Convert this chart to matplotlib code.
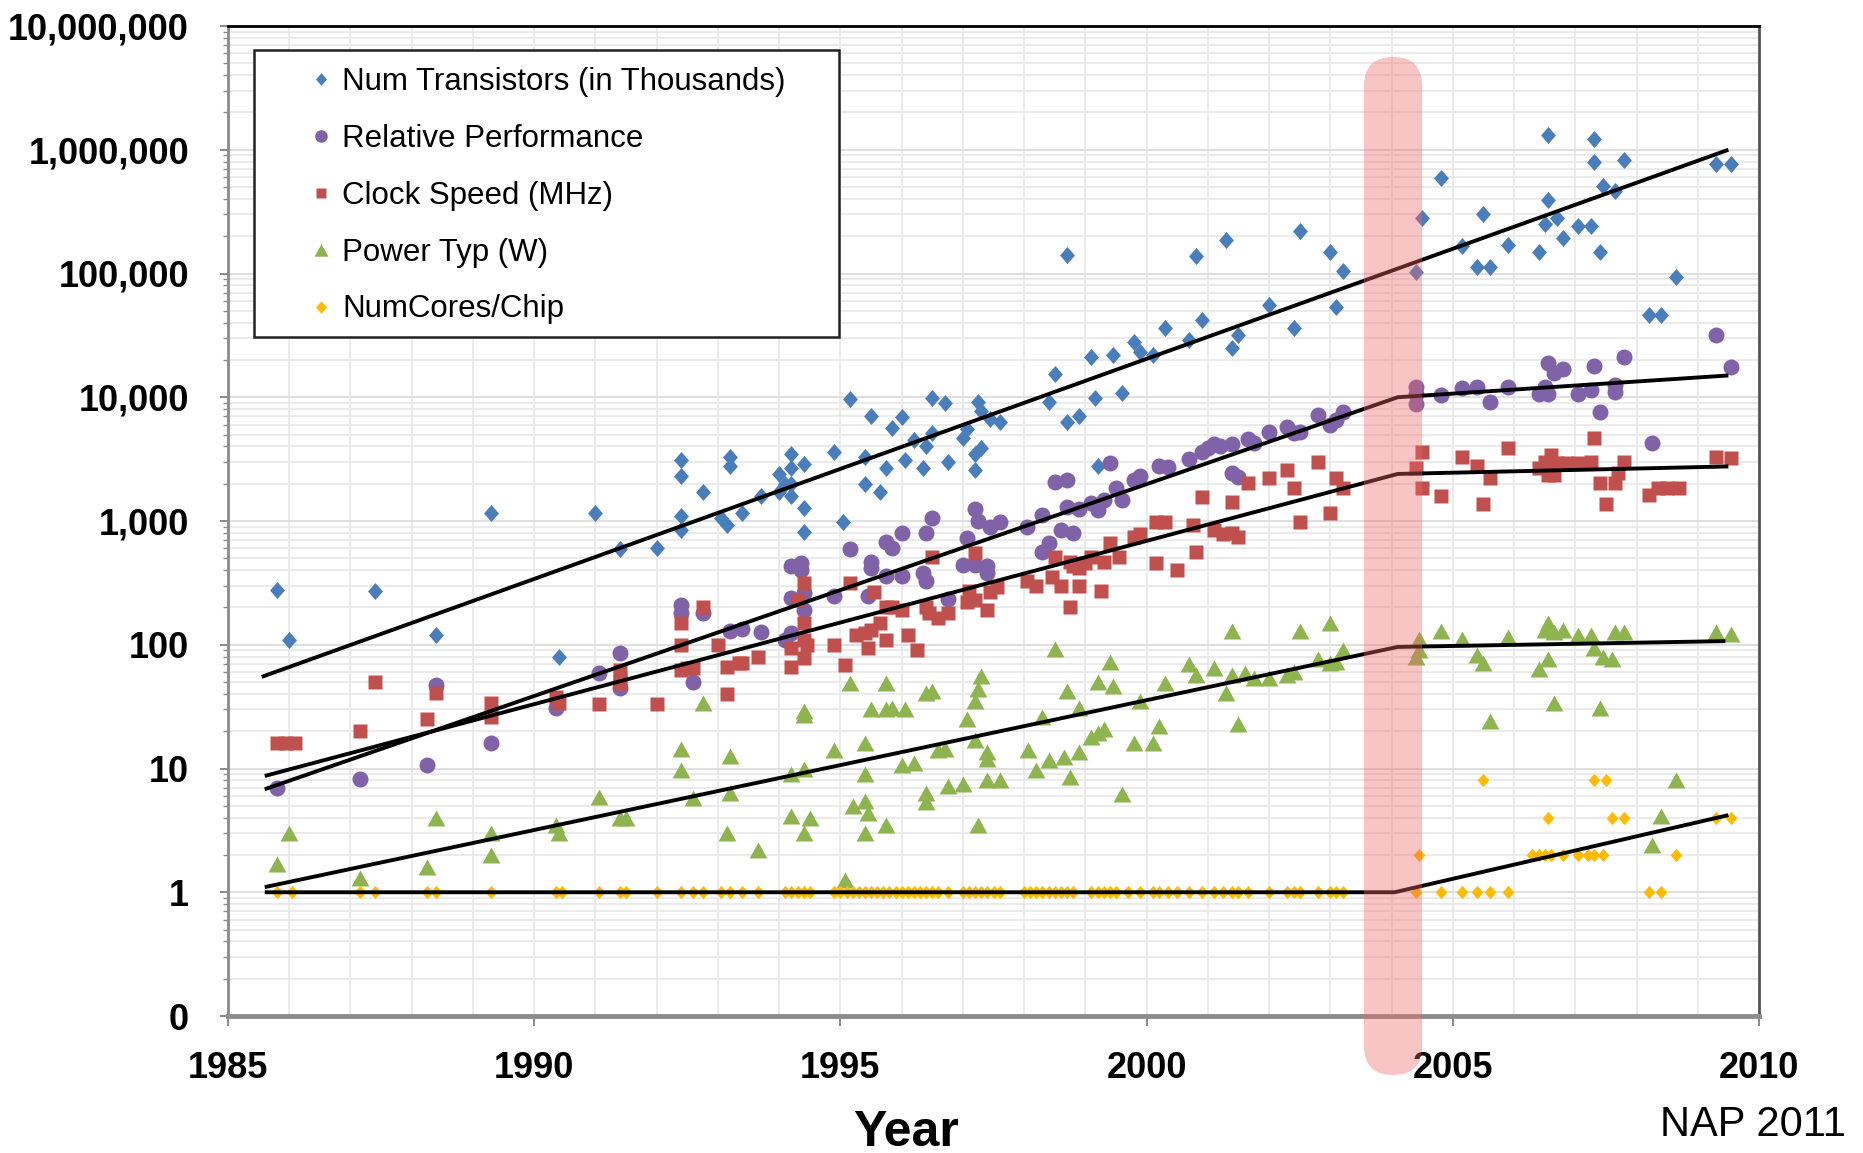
import numpy as np
import matplotlib
matplotlib.use("Agg")
import matplotlib.pyplot as plt
from matplotlib.patches import FancyBboxPatch, Rectangle
from matplotlib.path import Path
from matplotlib.ticker import FixedLocator, LogLocator, NullFormatter, MultipleLocator

plt.rcParams["font.family"] = ["Liberation Sans", "DejaVu Sans"]

# ---- data: (year, value) ----
transistors = [
    (1985.8, 275), (1986.0, 110), (1987.4, 270), (1988.4, 120), (1989.3, 1170),
    (1990.4, 80), (1991.0, 1170), (1991.4, 590), (1992.0, 600),
    (1992.4, 3100), (1992.4, 2300), (1992.4, 1100), (1992.4, 850), (1992.75, 1700),
    (1993.05, 1050), (1993.15, 930), (1993.2, 3300), (1993.2, 2800), (1993.4, 1170),
    (1993.7, 1600), (1994.0, 2400), (1994.0, 1700), (1994.1, 2000),
    (1994.2, 3500), (1994.2, 2700), (1994.2, 2000), (1994.2, 1600),
    (1994.4, 2900), (1994.4, 1270), (1994.4, 820), (1994.9, 3600), (1995.05, 990),
    (1995.15, 9700), (1995.4, 3300), (1995.4, 2000), (1995.5, 7000), (1995.65, 1700),
    (1995.75, 2700), (1995.85, 5600), (1996.0, 6900), (1996.05, 3100), (1996.2, 4500),
    (1996.35, 2700), (1996.4, 4000), (1996.5, 5100), (1996.5, 9800), (1996.7, 9000),
    (1996.75, 3000), (1997.0, 4700), (1997.07, 5500), (1997.2, 3500), (1997.2, 2600),
    (1997.25, 9100), (1997.3, 7800), (1997.3, 3900), (1997.45, 6700), (1997.6, 6300),
    (1998.4, 9100), (1998.5, 15500), (1998.7, 140000), (1998.7, 6300), (1998.9, 7000),
    (1999.1, 21000), (1999.15, 9800), (1999.2, 2800), (1999.45, 22000), (1999.6, 10800),
    (1999.8, 28000), (1999.9, 23000), (2000.1, 22000), (2000.3, 36000), (2000.7, 29000),
    (2000.8, 138000), (2000.9, 42000), (2001.3, 187000), (2001.4, 25000), (2001.5, 32000),
    (2002.0, 55600), (2002.4, 36000), (2002.5, 220000), (2003.0, 150000), (2003.1, 54000),
    (2003.2, 105000), (2004.4, 103000), (2004.5, 280000), (2004.8, 590000),
    (2005.15, 166000), (2005.4, 113000), (2005.5, 300000), (2005.6, 113000),
    (2005.9, 170000), (2006.4, 150000), (2006.55, 1320000), (2006.55, 390000),
    (2006.5, 250000), (2006.7, 280000), (2006.8, 195000), (2007.05, 240000),
    (2007.25, 240000), (2007.3, 1230000), (2007.3, 800000), (2007.4, 150000),
    (2007.45, 510000), (2007.65, 460000), (2007.8, 830000), (2008.2, 46000),
    (2008.4, 46000), (2008.65, 94000), (2009.3, 760000), (2009.55, 760000),
]

performance = [
    (1985.8, 6.9), (1987.15, 8.2), (1988.25, 10.7), (1988.4, 47), (1989.3, 16),
    (1990.35, 31), (1991.05, 59), (1991.4, 85), (1991.4, 45), (1992.4, 210),
    (1992.4, 180), (1992.6, 50), (1992.75, 180), (1993.2, 130), (1993.4, 135),
    (1993.7, 126), (1994.1, 110), (1994.2, 125), (1994.2, 240), (1994.2, 430),
    (1994.35, 460), (1994.35, 400), (1994.4, 260), (1994.4, 190), (1994.9, 250),
    (1995.15, 590), (1995.45, 250), (1995.5, 420), (1995.5, 470), (1995.75, 680),
    (1995.75, 360), (1995.85, 600), (1996.0, 800), (1996.0, 360), (1996.35, 380),
    (1996.4, 330), (1996.4, 800), (1996.5, 1050), (1996.75, 235), (1997.0, 440),
    (1997.07, 730), (1997.2, 1260), (1997.2, 440), (1997.25, 1000), (1997.4, 430),
    (1997.4, 380), (1997.45, 890), (1997.6, 980), (1998.05, 890), (1998.3, 1120),
    (1998.3, 560), (1998.4, 670), (1998.5, 2050), (1998.6, 850), (1998.7, 2150),
    (1998.7, 1300), (1998.8, 800), (1998.9, 1260), (1999.1, 1400), (1999.2, 1230),
    (1999.3, 1480), (1999.4, 2950), (1999.5, 1860), (1999.6, 1480), (1999.8, 2150),
    (1999.9, 2300), (2000.2, 2800), (2000.35, 2750), (2000.7, 3150), (2000.9, 3600),
    (2001.0, 3900), (2001.1, 4200), (2001.2, 4000), (2001.4, 4200), (2001.4, 2450),
    (2001.5, 2250), (2001.65, 4600), (2001.75, 4300), (2002.0, 5200), (2002.3, 5800),
    (2002.4, 5100), (2002.5, 5200), (2002.8, 7200), (2003.0, 6000), (2003.1, 6600),
    (2003.2, 7600), (2004.4, 12000), (2004.4, 10700), (2004.4, 8900), (2004.8, 10400),
    (2005.15, 11800), (2005.4, 12000), (2005.6, 9100), (2005.9, 12000),
    (2006.4, 10700), (2006.5, 12000), (2006.55, 10700), (2006.55, 19000),
    (2006.65, 15800), (2006.8, 17000), (2007.05, 10700), (2007.25, 11500),
    (2007.3, 18000), (2007.4, 7600), (2007.65, 12600), (2007.65, 11000),
    (2007.8, 21000), (2008.25, 4300), (2009.3, 32000), (2009.55, 17500),
]

clock = [
    (1985.8, 16), (1985.95, 16), (1986.1, 16), (1987.15, 20), (1987.4, 50),
    (1988.25, 25), (1988.4, 41), (1989.3, 34), (1989.3, 26), (1990.35, 38),
    (1990.4, 34), (1991.05, 33), (1991.4, 63), (1991.4, 54), (1991.4, 49),
    (1992.0, 33), (1992.4, 150), (1992.4, 100), (1992.4, 63), (1992.5, 65),
    (1992.6, 65), (1992.75, 200), (1993.0, 100), (1993.15, 66), (1993.15, 40),
    (1993.35, 71), (1993.4, 71), (1993.65, 79), (1994.2, 94), (1994.2, 66),
    (1994.4, 316), (1994.4, 150), (1994.4, 110), (1994.4, 78), (1994.45, 100),
    (1994.3, 230), (1994.9, 100), (1995.07, 68), (1995.16, 316), (1995.25, 120),
    (1995.4, 125), (1995.45, 95), (1995.5, 132), (1995.55, 265), (1995.65, 150),
    (1995.75, 110), (1995.75, 200), (1995.85, 200), (1996.0, 190), (1996.1, 120),
    (1996.25, 91), (1996.4, 200), (1996.45, 180), (1996.5, 510), (1996.6, 165),
    (1996.75, 180), (1997.07, 220), (1997.1, 270), (1997.2, 230), (1997.2, 550),
    (1997.4, 190), (1997.45, 265), (1997.55, 295), (1998.05, 330), (1998.2, 300),
    (1998.45, 350), (1998.5, 510), (1998.6, 300), (1998.75, 200), (1998.75, 470),
    (1998.8, 430), (1998.9, 300), (1998.9, 420), (1999.0, 460), (1999.1, 510),
    (1999.25, 270), (1999.3, 470), (1999.4, 660), (1999.55, 510), (1999.8, 740),
    (1999.9, 780), (2000.15, 980), (2000.15, 460), (2000.3, 980), (2000.5, 400),
    (2000.75, 930), (2000.8, 560), (2000.9, 1550), (2001.1, 850), (2001.25, 780),
    (2001.4, 800), (2001.4, 1420), (2001.5, 740), (2001.65, 2040), (2002.0, 2240),
    (2002.3, 2600), (2002.4, 1860), (2002.5, 980), (2002.8, 3000), (2003.0, 1150),
    (2003.1, 2240), (2003.2, 1860), (2004.4, 2700), (2004.5, 3600), (2004.5, 1860),
    (2004.8, 1600), (2005.15, 3300), (2005.4, 2800), (2005.5, 1380), (2005.6, 2240),
    (2005.9, 3900), (2006.4, 2700), (2006.5, 3000), (2006.55, 2340), (2006.6, 3400),
    (2006.65, 2340), (2006.7, 2950), (2006.85, 2950), (2007.05, 2950), (2007.25, 3000),
    (2007.3, 4700), (2007.4, 2040), (2007.5, 1380), (2007.65, 2040), (2007.7, 2450),
    (2007.8, 3000), (2008.2, 1620), (2008.35, 1860), (2008.5, 1860), (2008.7, 1860),
    (2009.3, 3300), (2009.55, 3240),
]

power = [
    (1985.8, 1.7), (1986.0, 3.0), (1987.15, 1.3), (1988.25, 1.6), (1988.4, 4.0),
    (1989.3, 3.0), (1989.3, 2.0), (1990.35, 3.5), (1990.4, 3.0), (1991.05, 5.9),
    (1991.4, 4.0), (1991.5, 4.0), (1992.4, 14.5), (1992.4, 9.8), (1992.6, 5.8),
    (1992.75, 34), (1993.15, 3.0), (1993.2, 12.7), (1993.2, 6.3), (1993.65, 2.2),
    (1994.2, 9.1), (1994.2, 4.1), (1994.4, 10), (1994.4, 3.0), (1994.4, 29),
    (1994.4, 27), (1994.5, 4.0), (1994.9, 14), (1995.07, 1.25), (1995.16, 49),
    (1995.2, 5.0), (1995.4, 5.5), (1995.4, 16), (1995.4, 9.1), (1995.4, 3.0),
    (1995.45, 4.4), (1995.5, 30), (1995.75, 49), (1995.75, 30), (1995.75, 3.5),
    (1995.85, 31), (1996.05, 30), (1996.0, 10.7), (1996.2, 11), (1996.4, 41),
    (1996.4, 6.3), (1996.4, 5.4), (1996.5, 42), (1996.6, 14), (1996.7, 14.5),
    (1996.75, 7.2), (1997.0, 7.5), (1997.07, 25), (1997.2, 35), (1997.2, 17),
    (1997.25, 44), (1997.25, 3.5), (1997.3, 56), (1997.4, 13.5), (1997.4, 12),
    (1997.4, 8.1), (1997.6, 8.1), (1998.06, 14), (1998.2, 9.8), (1998.3, 26),
    (1998.4, 11.8), (1998.5, 93), (1998.65, 12.3), (1998.7, 42), (1998.75, 8.5),
    (1998.9, 13.5), (1998.9, 31), (1999.1, 18), (1999.2, 19.5), (1999.2, 50),
    (1999.3, 21), (1999.4, 72), (1999.45, 46), (1999.6, 6.2), (1999.8, 16),
    (1999.9, 35), (2000.1, 16), (2000.2, 22), (2000.3, 49), (2000.7, 70),
    (2000.8, 57), (2001.1, 65), (2001.3, 41), (2001.4, 130), (2001.4, 57),
    (2001.5, 23), (2001.6, 59), (2001.75, 54), (2002.0, 54), (2002.3, 57),
    (2002.4, 60), (2002.5, 130), (2002.8, 76), (2003.0, 71), (2003.0, 151),
    (2003.1, 72), (2003.2, 91), (2004.4, 80), (2004.45, 112), (2004.45, 91),
    (2004.8, 130), (2005.15, 112), (2005.4, 83), (2005.5, 71), (2005.6, 24),
    (2005.9, 115), (2006.4, 64), (2006.5, 132), (2006.55, 76), (2006.55, 150),
    (2006.65, 126), (2006.65, 34), (2006.8, 132), (2007.05, 120), (2007.25, 120),
    (2007.3, 94), (2007.4, 31), (2007.45, 80), (2007.6, 76), (2007.65, 126),
    (2007.8, 126), (2008.25, 2.4), (2008.4, 4.1), (2008.65, 8.1), (2009.3, 126),
    (2009.55, 123),
]

cores_single = [  # years of chips with one core
    1985.8, 1986.05, 1987.15, 1987.4, 1988.25, 1988.4, 1989.3, 1990.35, 1990.45,
    1991.05, 1991.4, 1991.5, 1992.0, 1992.4, 1992.6, 1992.75, 1993.05, 1993.2,
    1993.4, 1993.65, 1994.1, 1994.2, 1994.3, 1994.4, 1994.5, 1994.9, 1995.0,
    1995.1, 1995.2, 1995.3, 1995.4, 1995.5, 1995.6, 1995.7, 1995.8, 1995.9,
    1996.0, 1996.1, 1996.2, 1996.3, 1996.4, 1996.5, 1996.6, 1996.75, 1997.0,
    1997.1, 1997.2, 1997.3, 1997.4, 1997.5, 1997.6, 1998.0, 1998.1, 1998.2,
    1998.3, 1998.4, 1998.5, 1998.6, 1998.7, 1998.8, 1999.1, 1999.2, 1999.3,
    1999.4, 1999.5, 1999.7, 1999.9, 2000.1, 2000.2, 2000.35, 2000.5, 2000.7,
    2000.9, 2001.1, 2001.25, 2001.4, 2001.5, 2001.65, 2002.0, 2002.3, 2002.4,
    2002.5, 2002.8, 2003.0, 2003.1, 2003.2, 2004.4, 2004.8, 2005.15, 2005.4,
    2005.6, 2005.9, 2008.2, 2008.4,
]
cores_multi = [
    (2004.45, 2), (2005.5, 8), (2006.3, 2), (2006.4, 2), (2006.5, 2), (2006.6, 2),
    (2006.8, 2), (2007.05, 2), (2007.2, 2), (2007.3, 2), (2007.45, 2), (2006.55, 4),
    (2007.3, 8), (2007.5, 8), (2007.6, 4), (2007.8, 4), (2008.65, 2), (2009.3, 4),
    (2009.55, 4),
]

# trend lines (knots)
trend_trans = [(1985.55, 55), (2009.5, 1.0e6)]
trend_perf = [(1985.6, 6.8), (2004.1, 10000), (2009.5, 15000)]
trend_clock = [(1985.6, 8.7), (2004.1, 2400), (2009.5, 2760)]
trend_power = [(1985.6, 1.1), (2004.1, 96), (2009.45, 107)]
trend_cores = [(1985.6, 1), (2004.05, 1), (2009.5, 4.2)]

band_years = (2003.55, 2004.5)

ytick_vals = [0.1, 1, 10, 100, 1e3, 1e4, 1e5, 1e6, 1e7]
ytick_labels = ["0", "1", "10", "100", "1,000", "10,000", "100,000", "1,000,000", "10,000,000"]
xtick_vals = [1985, 1990, 1995, 2000, 2005, 2010]

# ---- markers ----
diamond = Path([(0, 1), (0.88, 0), (0, -1), (-0.88, 0), (0, 1)],
               [Path.MOVETO, Path.LINETO, Path.LINETO, Path.LINETO, Path.CLOSEPOLY])
triangle = Path([(0, 0.9), (1, -0.9), (-1, -0.9), (0, 0.9)],
                [Path.MOVETO, Path.LINETO, Path.LINETO, Path.CLOSEPOLY])

fig = plt.figure(figsize=(18.63, 11.53), dpi=100)
ax = fig.add_axes([228 / 1863, 1 - 1016 / 1153, 1531 / 1863, 990 / 1153])
ax.set_yscale("log")
ax.set_xlim(1985, 2010)
ax.set_ylim(0.1, 1e7)


def unzip(pairs):
    x, y = zip(*pairs)
    return list(x), list(y)


cores = [(y, 1) for y in cores_single] + cores_multi

series = [
    (transistors, "Num Transistors (in Thousands)", "#4a7ebb", diamond, 12.2, 9),
    (performance, "Relative Performance", "#7f62a8", "o", 11.5, 9),
    (clock, "Clock Speed (MHz)", "#c0504d", "s", 9.4, 7.5),
    (power, "Power Typ (W)", "#8db44e", triangle, 12.8, 10),
    (cores, "NumCores/Chip", "#ffbb00", diamond, 9.6, 9),
]
handles = []
for data, label, color, marker, ms, leg_ms in series:
    x, y = unzip(data)
    ax.plot(x, y, ls="none", marker=marker, ms=ms, color=color, mec="none", zorder=3)
    h, = ax.plot([], [], ls="none", marker=marker, ms=leg_ms, color=color, mec="none",
                 label=label)
    handles.append(h)

for knots in [trend_trans, trend_perf, trend_clock, trend_power, trend_cores]:
    x, y = unzip(knots)
    ax.plot(x, y, color="black", lw=2.8, zorder=4, solid_capstyle="butt")

# ---- axes styling ----
ax.yaxis.set_major_locator(FixedLocator(ytick_vals))
ax.set_yticklabels(ytick_labels)
ax.yaxis.set_minor_locator(LogLocator(base=10, subs=np.arange(2, 10)))
ax.yaxis.set_minor_formatter(NullFormatter())
ax.set_xticks(xtick_vals)
ax.xaxis.set_minor_locator(MultipleLocator(1))

for lab in ax.get_xticklabels() + ax.get_yticklabels():
    lab.set_fontweight("bold")
    lab.set_fontsize(26)

ax.tick_params(axis="y", which="major", length=6, width=1.4, color="#8a8a8a", pad=22)
ax.tick_params(axis="y", which="minor", length=3.5, width=1.0, color="#8a8a8a")
ax.tick_params(axis="x", which="major", length=7, width=1.4, color="#8a8a8a", pad=18)
ax.tick_params(axis="x", which="minor", length=0)

ax.xaxis.grid(True, which="both", color="#e8e8e8", lw=1.2)
ax.yaxis.grid(True, which="major", color="#dcdcdc", lw=1.3)
ax.yaxis.grid(True, which="minor", color="#e8e8e8", lw=1.2)
ax.set_axisbelow(True)

ax.spines["left"].set_color("#8a8a8a")
ax.spines["left"].set_linewidth(2)
ax.spines["bottom"].set_color("#8c8c8c")
ax.spines["bottom"].set_linewidth(3.5)
ax.spines["top"].set_color("black")
ax.spines["top"].set_linewidth(2)
ax.spines["right"].set_color("#555555")
ax.spines["right"].set_linewidth(2)

# ---- legend: white box plus entries ----
ax.add_patch(Rectangle((0.017, 0.686), 0.382, 0.290, transform=ax.transAxes,
                       facecolor="white", edgecolor="#222222", lw=1.8, zorder=5))
leg = ax.legend(handles=handles, loc="upper left", bbox_to_anchor=(0.0536, 0.9586),
                frameon=False, fontsize=22.5, borderpad=0, borderaxespad=0,
                handlelength=0.7, handletextpad=0.32, labelspacing=0.86)
leg.set_zorder(6)

# ---- highlight band around 2004 ----
fig.canvas.draw()
bx0 = ax.transData.transform((band_years[0], 1))[0] / fig.dpi
bx1 = ax.transData.transform((band_years[1], 1))[0] / fig.dpi
top_in = (1153 - 57) / 100
bot_in = (1153 - 1075) / 100
band = FancyBboxPatch((bx0, bot_in), bx1 - bx0, top_in - bot_in,
                      boxstyle=f"round,pad=0,rounding_size={(bx1 - bx0) / 2}",
                      transform=fig.dpi_scale_trans, facecolor="#ee6666",
                      edgecolor="none", alpha=0.38, zorder=2)
fig.add_artist(band)

fig.text(906 / 1863, 1 - 1133 / 1153, "Year", fontsize=36, fontweight="bold",
         ha="center", va="center")
fig.text(1846 / 1863, 1 - 1125 / 1153, "NAP 2011", fontsize=30,
         ha="right", va="center")

fig.savefig("out.png", dpi=100)
